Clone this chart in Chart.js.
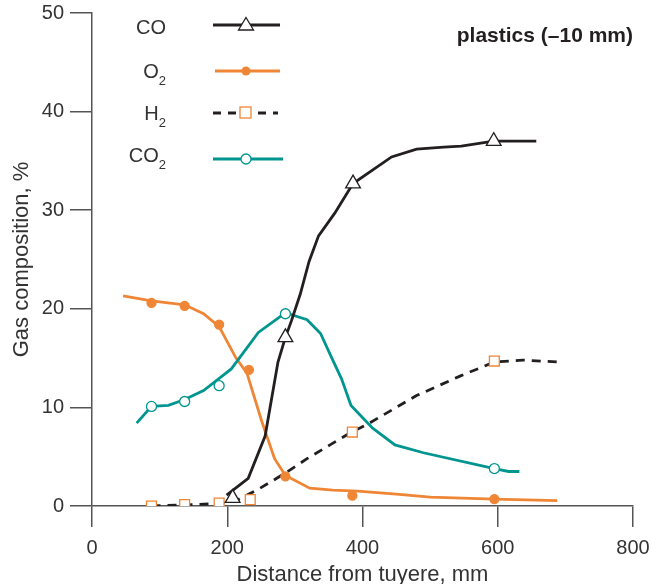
<!DOCTYPE html>
<html>
<head>
<meta charset="utf-8">
<script src="https://cdn.jsdelivr.net/npm/chart.js@4.4.1/dist/chart.umd.min.js"></script>
<style>
  body { margin: 0; background: #fff; }
  #wrap { position: relative; width: 651px; height: 584px; font-family: "Liberation Sans", Arial, sans-serif; color: #333; }
  #titulo { position: absolute; right: 18px; top: 22px; font-size: 21px; font-weight: bold; line-height: 26px; color: #231f20; }
  .lbl { position: absolute; left: 0; width: 166px; text-align: right; font-size: 20px; line-height: 24px; }
  .lbl span { font-size: 13px; position: relative; top: 7px; }
  #muestras { position: absolute; left: 0; top: 0; }
</style>
</head>
<body>
<div id="wrap">
  <canvas id="gases" width="651" height="584"></canvas>
  <div id="titulo">plastics (–10 mm)</div>
  <div class="lbl" style="top:15px">CO</div>
  <div class="lbl" style="top:59px">O<span>2</span></div>
  <div class="lbl" style="top:101px">H<span>2</span></div>
  <div class="lbl" style="top:143px">CO<span>2</span></div>
  <svg id="muestras" width="651" height="180">
    <line x1="213" y1="25" x2="280" y2="25" stroke="#231f20" stroke-width="3"/>
    <polygon points="246,17.5 253.5,30 238.5,30" fill="#fff" stroke="#231f20" stroke-width="1.3"/>
    <line x1="215" y1="71" x2="280" y2="71" stroke="#ef8636" stroke-width="3"/>
    <circle cx="246" cy="71" r="4.5" fill="#ef8636"/>
    <line x1="213" y1="113" x2="278" y2="113" stroke="#231f20" stroke-width="3" stroke-dasharray="8,7"/>
    <rect x="240" y="107" width="11" height="11" fill="#fff" stroke="#ef8636" stroke-width="1.3"/>
    <line x1="213" y1="159" x2="283" y2="159" stroke="#00968f" stroke-width="3"/>
    <circle cx="246" cy="159" r="5" fill="#fff" stroke="#00968f" stroke-width="1.3"/>
  </svg>
</div>
<script>
// curvas (distancia en mm, composicion en %)
const coCurvaX = [199, 231, 256, 275, 286, 295, 308, 321, 335, 359, 386, 443, 480, 520, 546, 594, 657];
const coCurvaY = [1.1, 2.8, 7.1, 14.6, 17.1, 18.8, 21.5, 24.8, 27.4, 29.7, 32.7, 35.4, 36.2, 36.4, 36.5, 37, 37];
const coPuntosX = [208, 286, 386, 594];
const coPuntosY = [0.8, 17.1, 32.7, 37];

const o2CurvaX = [46, 88, 137, 165, 188, 213, 229, 251, 270, 286, 322, 356, 393, 450, 500, 595, 688];
const o2CurvaY = [21.3, 20.8, 20.4, 19.5, 18.2, 15.0, 13.5, 8.6, 4.8, 3.1, 1.8, 1.6, 1.5, 1.2, 0.9, 0.7, 0.55];
const o2PuntosX = [88, 137, 188, 232, 286, 385, 595];
const o2PuntosY = [20.6, 20.3, 18.4, 13.8, 3.0, 1.05, 0.7];

const h2CurvaX = [88, 137, 188, 213, 246, 285, 318, 352, 384, 405, 480, 545, 595, 637, 691];
const h2CurvaY = [0, 0.1, 0.25, 0.55, 1.7, 3.3, 4.8, 6.2, 7.5, 8.2, 11.2, 13.2, 14.6, 14.8, 14.6];
const h2PuntosX = [88, 137, 188, 234, 385, 595];
const h2PuntosY = [0, 0.15, 0.3, 0.65, 7.5, 14.7];

const co2CurvaX = [66, 88, 113, 137, 165, 206, 246, 286, 318, 338, 354, 369, 383, 415, 448, 490, 595, 616, 632];
const co2CurvaY = [8.4, 10.1, 10.2, 10.8, 11.7, 13.9, 17.6, 19.6, 18.9, 17.5, 15.1, 12.9, 10.2, 7.9, 6.2, 5.4, 3.8, 3.5, 3.5];
const co2PuntosX = [88, 137, 188, 286, 595];
const co2PuntosY = [10.1, 10.6, 12.2, 19.5, 3.8];

const ticksX = [0, 200, 400, 600, 800];
const ticksY = [0, 10, 20, 30, 40, 50];

const negro = '#231f20', naranja = '#ef8636', verde = '#00968f', ejes = '#555';

function pares(xs, ys) {
    return xs.map((x, i) => ({ x: x, y: ys[i] }));
}

function curva(xs, ys, color, dash) {
    return {
        data: pares(xs, ys),
        showLine: true,
        borderColor: color,
        borderWidth: 2.8,
        borderDash: dash || [],
        pointRadius: 0,
        tension: 0,
        fill: false
    };
}

function puntos(xs, ys, estilo, radio, relleno, borde) {
    return {
        data: pares(xs, ys),
        showLine: false,
        pointStyle: estilo,
        pointRadius: radio,
        pointBackgroundColor: relleno,
        pointBorderColor: borde,
        pointBorderWidth: 1.3
    };
}

const fuente = { family: '"Liberation Sans", Arial, sans-serif', size: 20 };
const fuenteTitulo = { family: '"Liberation Sans", Arial, sans-serif', size: 22 };

new Chart(document.getElementById('gases').getContext('2d'), {
    type: 'scatter',
    data: {
        datasets: [
            puntos(coPuntosX, coPuntosY, 'triangle', 8.5, '#fff', negro),
            puntos(co2PuntosX, co2PuntosY, 'circle', 5, '#fff', verde),
            puntos(h2PuntosX, h2PuntosY, 'rect', 7, '#fff', naranja),
            puntos(o2PuntosX, o2PuntosY, 'circle', 4.5, naranja, naranja),
            curva(coCurvaX, coCurvaY, negro),
            curva(co2CurvaX, co2CurvaY, verde),
            curva(o2CurvaX, o2CurvaY, naranja),
            curva(h2CurvaX, h2CurvaY, negro, [9, 7])
        ]
    },
    options: {
        responsive: false,
        animation: false,
        events: [],
        layout: { padding: { top: 13, right: 18, left: 0, bottom: 0 } },
        plugins: { legend: { display: false }, tooltip: { enabled: false } },
        scales: {
            x: {
                type: 'linear', min: 0, max: 800,
                afterBuildTicks: s => { s.ticks = ticksX.map(v => ({ value: v })); },
                afterFit: s => { s.height = 78; s.paddingLeft = 0; s.paddingRight = 0; },
                ticks: { color: '#333', font: fuente, padding: 9 },
                grid: { drawOnChartArea: false, tickLength: 21, color: ejes, lineWidth: 1.5 },
                border: { color: ejes, width: 1.5 },
                title: { display: true, text: 'Distance from tuyere, mm', color: '#333', font: fuenteTitulo, padding: { top: 0, bottom: -4 } }
            },
            y: {
                type: 'linear', min: 0, max: 50,
                afterBuildTicks: s => { s.ticks = ticksY.map(v => ({ value: v })); },
                afterFit: s => { s.width = 92; s.paddingTop = 0; s.paddingBottom = 0; },
                ticks: { color: '#333', font: fuente, padding: 6 },
                grid: { drawOnChartArea: false, tickLength: 22, color: ejes, lineWidth: 1.5 },
                border: { color: ejes, width: 1.5 },
                title: { display: true, text: 'Gas composition, %', color: '#333', font: fuenteTitulo, padding: { top: 9, bottom: 0 } }
            }
        }
    }
});
</script>
</body>
</html>
